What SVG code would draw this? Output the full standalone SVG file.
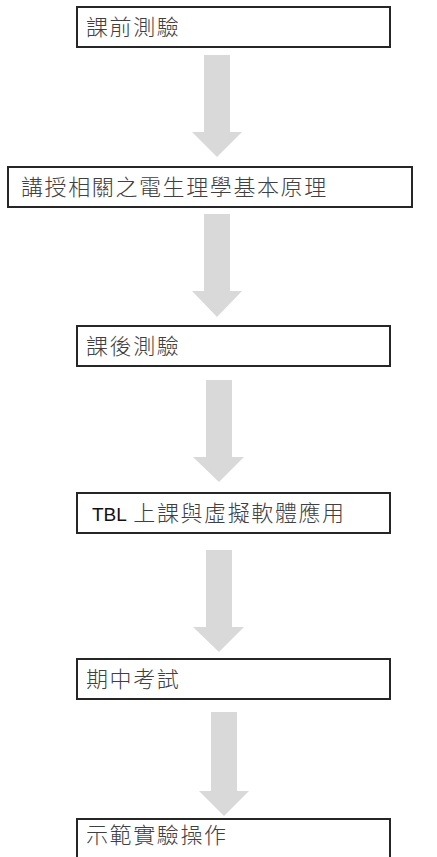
<svg xmlns="http://www.w3.org/2000/svg" width="437" height="857" viewBox="0 0 437 857">
<style>
.box{fill:#fff;stroke:#262626;stroke-width:2}
.t{font-family:"Noto Sans CJK TC","Noto Sans CJK SC",sans-serif;font-size:22px;fill:#404040;letter-spacing:1.6px;font-weight:300}
.lat{font-family:"Liberation Sans","Noto Sans",sans-serif;font-size:19px;fill:#111;letter-spacing:0;font-weight:400}
.arr{fill:#d9d9d9}
</style>
<rect width="437" height="857" fill="#fff"/>
<g id="connectors">
<polygon class="arr" points="204,55 230,55 230,132 242,132 217,157 192,132 204,132"/>
<polygon class="arr" points="204,214 230,214 230,291 242,291 217,317 192,291 204,291"/>
<polygon class="arr" points="206,380 232,380 232,457 244,457 219,482 193,457 206,457"/>
<polygon class="arr" points="206,550 232,550 232,627 244,627 219,652 193,627 206,627"/>
<polygon class="arr" points="211,712 237,712 237,791 249,791 224,816 199,791 211,791"/>
</g>
<g id="n1"><rect class="box" x="77" y="7" width="313" height="40"/><text class="t" x="86" y="35">課前測驗</text></g>
<g id="n2"><rect class="box" x="8" y="167" width="404" height="40"/><text class="t" x="21" y="195">講授相關之電生理學基本原理</text></g>
<g id="n3"><rect class="box" x="77" y="326" width="313" height="40"/><text class="t" x="86" y="354">課後測驗</text></g>
<g id="n4"><rect class="box" x="77" y="493" width="313" height="40"/><text class="t" x="92" y="521"><tspan class="lat">TBL</tspan> 上課與虛擬軟體應用</text></g>
<g id="n5"><rect class="box" x="77" y="659" width="313" height="40"/><text class="t" x="86" y="687">期中考試</text></g>
<g id="n6"><rect class="box" x="77" y="819" width="313" height="44"/><text class="t" x="86" y="843">示範實驗操作</text></g>
</svg>
